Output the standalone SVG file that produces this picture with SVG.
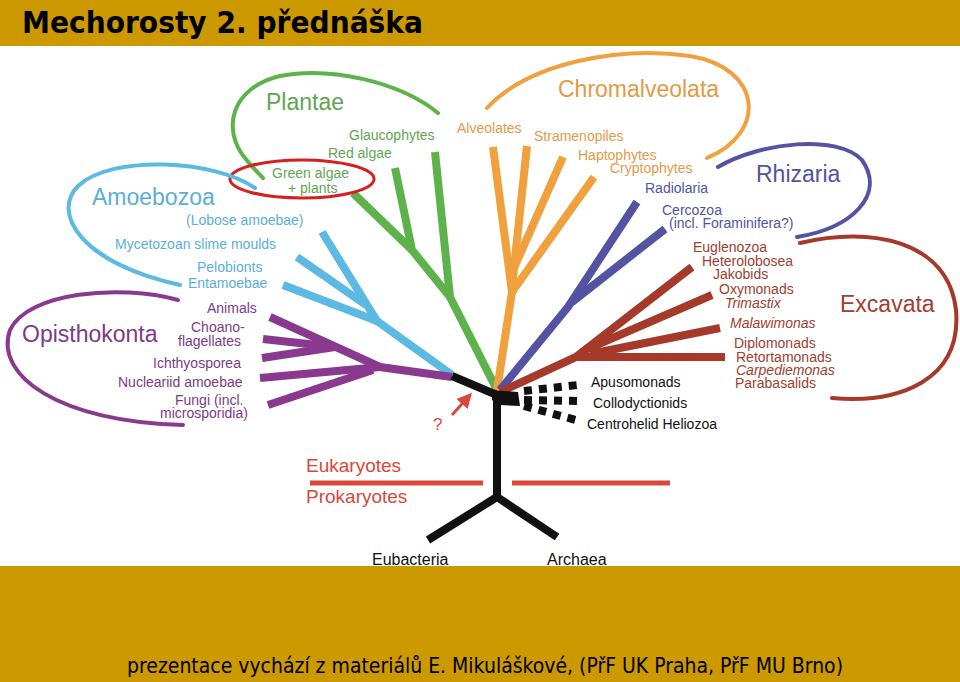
<svg xmlns="http://www.w3.org/2000/svg" width="960" height="682" viewBox="0 0 960 682">
<defs>
<style>
text{font-family:"Liberation Sans",Arial,sans-serif;font-size:14px}
.big{font-size:23px}
.it{font-style:italic}
.br{fill:none;stroke-linecap:butt;stroke-linejoin:miter;stroke-width:8}
.cv{fill:none;stroke-width:4;stroke-linecap:round}
.g{stroke:#5DB24B}.gt{fill:#5FA650}
.c{stroke:#5BB9E2}.ct{fill:#5AAED8}
.p{stroke:#8A3A8E}.pt{fill:#7E3A84}
.o{stroke:#F0A03C}.ot{fill:#E39A45}
.b{stroke:#5352A3}.bt{fill:#4F55A0}
.r{stroke:#A63A2A}.rt{fill:#A0402E}
.k{stroke:#111111}
.rd{fill:#D9483B}
</style>
<marker id="ah" viewBox="0 0 10 10" refX="8" refY="5" markerWidth="5" markerHeight="5" orient="auto">
<path d="M0,0 L10,5 L0,10 z" fill="#D9483B"/>
</marker>
</defs>
<rect x="0" y="0" width="960" height="682" fill="#ffffff"/>
<g id="connectors">
<path class="br g" d="M497,390 L450,297 L435,152"/>
<path class="br g" d="M450,297 L412,250 L395,168"/>
<path class="br g" d="M412,250 L353,193"/>
<path class="br o" d="M497,390 L512,292 L493,147"/>
<path class="br o" d="M512,292 L514,268 L527,146"/>
<path class="br o" d="M514,268 L563,157"/>
<path class="br o" d="M512,292 L594,177"/>
<path class="br b" d="M500,390 L568,307 L637,202"/>
<path class="br b" d="M572,302 L665,229"/>
<path class="br r" d="M500,392 L576,357 L692,267"/>
<path class="br r" d="M576,357 L725,357"/>
<path class="br r" d="M585,350 L712,295"/>
<path class="br r" d="M590,354 L720,328"/>
<path class="br c" d="M452,375 L377,321 L322,232"/>
<path class="br c" d="M366,305 L297,257"/>
<path class="br c" d="M377,321 L283,285"/>
<path class="br p" d="M452,377 L380,367 L270,317"/>
<path class="br p" d="M335,347 L263,339"/>
<path class="br p" d="M335,347 L262,358"/>
<path class="br p" d="M380,367 L260,378"/>
<path class="br p" d="M373,370 L268,405"/>
<path class="br k" d="M452,376 L497,395"/>
<path class="br k" d="M497,394 L497,497"/>
<path class="br k" d="M497,497 L428,540"/>
<path class="br k" d="M497,497 L557,537"/>
<polygon points="492,390 518,392 520,406 500,405 492,400" fill="#111111"/>
<path class="br k" d="M524,391 L578,385" stroke-dasharray="8 7"/>
<path class="br k" d="M524,400 L578,401" stroke-dasharray="8 7"/>
<path class="br k" d="M524,406 L576,420" stroke-dasharray="8 7"/>
<line x1="452" y1="415" x2="470" y2="395" stroke="#D9483B" stroke-width="3" marker-end="url(#ah)"/>
<line x1="310" y1="483" x2="483" y2="483" stroke="#D9483B" stroke-width="5"/>
<line x1="512" y1="483" x2="670" y2="483" stroke="#D9483B" stroke-width="5"/>
</g>
<g id="plantae">
<path class="cv g" d="M438,113 C400,82 330,66 280,76 C230,88 222,130 245,158 C252,167 258,173 263,178"/>
<text class="big gt" x="266" y="110">Plantae</text>
<text class="gt" x="349" y="140">Glaucophytes</text>
<text class="gt" x="328" y="158">Red algae</text>
<text class="gt" x="272" y="178">Green algae</text>
<text class="gt" x="288" y="193">+ plants</text>
<ellipse cx="302" cy="179" rx="72" ry="19" fill="none" stroke="#D42020" stroke-width="3"/>
</g>
<g id="chromalveolata">
<path class="cv o" d="M487,108 C530,62 620,46 690,56 C762,68 768,132 707,158"/>
<text class="big ot" x="558" y="97">Chromalveolata</text>
<text class="ot" x="457" y="133">Alveolates</text>
<text class="ot" x="534" y="141">Stramenopiles</text>
<text class="ot" x="578" y="160">Haptophytes</text>
<text class="ot" x="610" y="173">Cryptophytes</text>
</g>
<g id="rhizaria">
<path class="cv b" d="M718,167 C760,142 838,134 862,160 C886,195 852,228 797,237"/>
<text class="big bt" x="756" y="182">Rhizaria</text>
<text class="bt" x="645" y="193">Radiolaria</text>
<text class="bt" x="662" y="215">Cercozoa</text>
<text class="bt" x="669" y="228">(incl. Foraminifera?)</text>
</g>
<g id="excavata">
<path class="cv r" d="M800,243 C870,226 948,240 956,310 C962,380 900,404 832,398"/>
<text class="big rt" x="840" y="312">Excavata</text>
<text class="rt" x="693" y="252">Euglenozoa</text>
<text class="rt" x="702" y="266">Heterolobosea</text>
<text class="rt" x="713" y="279">Jakobids</text>
<text class="rt" x="719" y="294">Oxymonads</text>
<text class="rt it" x="725" y="308">Trimastix</text>
<text class="rt it" x="730" y="328">Malawimonas</text>
<text class="rt" x="734" y="348">Diplomonads</text>
<text class="rt" x="736" y="362">Retortamonads</text>
<text class="rt it" x="736" y="375">Carpediemonas</text>
<text class="rt" x="735" y="388">Parabasalids</text>
</g>
<g id="amoebozoa">
<path class="cv c" d="M255,188 C215,160 112,154 78,186 C52,212 78,262 180,285"/>
<text class="big ct" x="92" y="205">Amoebozoa</text>
<text class="ct" x="186" y="225">(Lobose amoebae)</text>
<text class="ct" x="115" y="249">Mycetozoan slime moulds</text>
<text class="ct" x="197" y="272">Pelobionts</text>
<text class="ct" x="188" y="288">Entamoebae</text>
</g>
<g id="opisthokonta">
<path class="cv p" d="M178,300 C120,284 28,292 10,330 C-6,376 60,422 183,425"/>
<text class="big pt" x="22" y="342">Opisthokonta</text>
<text class="pt" x="207" y="313">Animals</text>
<text class="pt" x="191" y="332">Choano-</text>
<text class="pt" x="178" y="346">flagellates</text>
<text class="pt" x="153" y="368">Ichthyosporea</text>
<text class="pt" x="118" y="387">Nucleariid amoebae</text>
<text class="pt" x="175" y="405">Fungi (incl.</text>
<text class="pt" x="160" y="418">microsporidia)</text>
</g>
<g id="unplaced">
<text x="591" y="387" fill="#111">Apusomonads</text>
<text x="593" y="408" fill="#111">Collodyctionids</text>
<text x="587" y="429" fill="#111">Centrohelid Heliozoa</text>
<text class="rd" x="433" y="430" style="font-size:17px">?</text>
</g>
<g id="domains">
<text class="rd" x="306" y="472" style="font-size:19px">Eukaryotes</text>
<text class="rd" x="306" y="503" style="font-size:19px">Prokaryotes</text>
<text x="372" y="565" fill="#111" style="font-size:16px">Eubacteria</text>
<text x="547" y="565" fill="#111" style="font-size:16px">Archaea</text>
</g>
<g id="header">
<rect x="0" y="0" width="960" height="46" fill="#CC9900"/>
<text x="22" y="33" fill="#000" style="font-family:'DejaVu Sans',sans-serif;font-weight:bold;font-size:31px" textLength="401" lengthAdjust="spacingAndGlyphs">Mechorosty 2. přednáška</text>
</g>
<g id="footer">
<rect x="0" y="566" width="960" height="116" fill="#CC9900"/>
<text x="127" y="673" fill="#000" style="font-family:'DejaVu Sans',sans-serif;font-size:22px" textLength="716" lengthAdjust="spacingAndGlyphs">prezentace vychází z materiálů E. Mikuláškové, (PřF UK Praha, PřF MU Brno)</text>
</g>
</svg>
